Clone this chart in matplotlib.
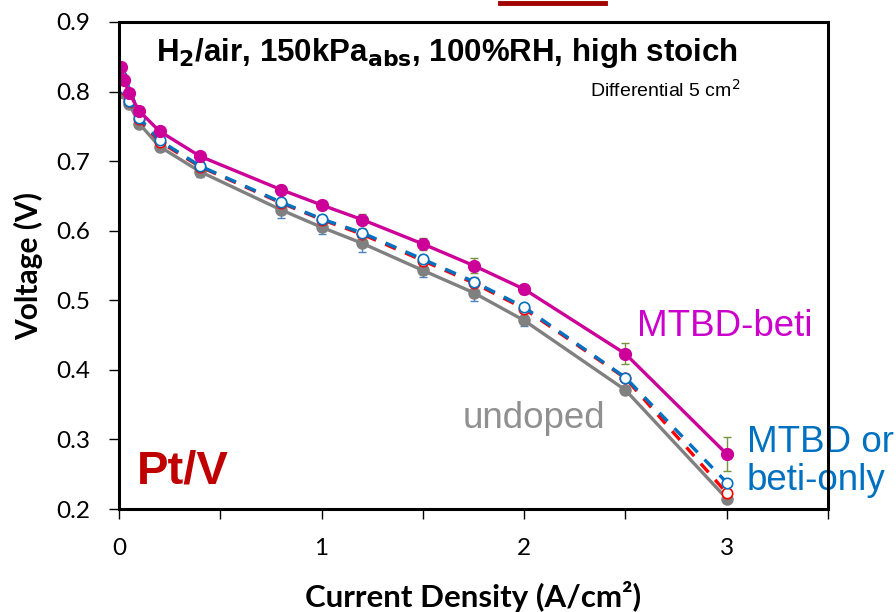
import matplotlib as mpl
import matplotlib.pyplot as plt
from matplotlib.lines import Line2D
from matplotlib.ticker import MultipleLocator, FuncFormatter

mpl.rcParams.update({
    "font.family": ["Lato", "DejaVu Sans"],
    "axes.linewidth": 2.0,
})

# current density (A/cm2)
current = [0.01, 0.025, 0.05, 0.1, 0.2, 0.4, 0.8, 1.0, 1.2, 1.5, 1.75, 2.0, 2.5, 3.0]

# cell voltage (V)
v_undoped = [0.815, 0.798, 0.782, 0.754, 0.721, 0.685, 0.630, 0.605, 0.582, 0.543, 0.511, 0.471, 0.371, 0.215]
v_mtbd_only = [0.821, 0.804, 0.786, 0.760, 0.728, 0.692, 0.640, 0.616, 0.595, 0.557, 0.525, 0.488, 0.388, 0.223]
v_beti_only = [0.822, 0.805, 0.787, 0.762, 0.730, 0.693, 0.641, 0.617, 0.597, 0.559, 0.527, 0.490, 0.389, 0.238]
v_mtbd_beti = [0.835, 0.817, 0.798, 0.772, 0.743, 0.707, 0.659, 0.637, 0.616, 0.581, 0.550, 0.516, 0.423, 0.279]

# error bars (V)
e_undoped = [0.003, 0.003, 0.004, 0.005, 0.006, 0.008, 0.012, 0.010, 0.012, 0.010, 0.012, 0.008, 0.006, 0.004]
e_beti_only = [0.002, 0.002, 0.003, 0.003, 0.004, 0.004, 0.005, 0.006, 0.007, 0.006, 0.006, 0.005, 0.004, 0.004]
e_mtbd_beti = [0.003, 0.003, 0.003, 0.004, 0.004, 0.004, 0.006, 0.006, 0.008, 0.009, 0.011, 0.007, 0.015, 0.025]

x0, x1 = 119 / 896, 828 / 896
y0, y1 = 1 - 509 / 612, 1 - 22 / 612

fig = plt.figure(figsize=(8.96, 6.12), dpi=100)
ax = fig.add_axes([x0, y0, x1 - x0, y1 - y0])
for s in ax.spines.values():
    s.set_visible(False)

ax.errorbar(current, v_undoped, yerr=e_undoped, fmt="none", ecolor="#4F81BD",
            elinewidth=1.0, capsize=3, zorder=2)
ax.plot(current, v_undoped, "-o", color="#808080", lw=2.4, ms=8, zorder=3)

ax.plot(current, v_mtbd_only, "--o", color="#FF0000", lw=2.4, ms=7.5,
        mfc="white", mec="#FF0000", mew=1.2, dashes=(3.5, 3), zorder=4)
ax.errorbar(current, v_beti_only, yerr=e_beti_only, fmt="none", ecolor="#F79646",
            elinewidth=1.0, capsize=3, zorder=4)
ax.plot(current, v_beti_only, "--o", color="#0070C0", lw=2.4, ms=7.5,
        mfc="white", mec="#0070C0", mew=1.2, dashes=(3.5, 3), zorder=5)

ax.errorbar(current, v_mtbd_beti, yerr=e_mtbd_beti, fmt="none", ecolor="#77933C",
            elinewidth=1.0, capsize=3, zorder=6)
ax.plot(current, v_mtbd_beti, "-o", color="#CC0099", lw=2.4, ms=8.5, zorder=7)

ax.set_xlim(0, 3.5)
ax.set_ylim(0.2, 0.9)
ax.xaxis.set_major_locator(MultipleLocator(0.5))
ax.xaxis.set_major_formatter(FuncFormatter(
    lambda v, p: f"{v:.0f}" if abs(v - round(v)) < 1e-6 and v < 3.4 else ""))
ax.yaxis.set_major_locator(MultipleLocator(0.1))
ax.yaxis.set_major_formatter(FuncFormatter(lambda v, p: f"{v:.1f}"))
ax.tick_params(direction="out", length=7, width=1.0, labelsize=17.5)
ax.tick_params(axis="x", pad=14)
ax.tick_params(axis="y", pad=14)

ax.set_xlabel("Current Density (A/cm²)", fontsize=22.5, fontweight="bold", labelpad=16)
ax.set_ylabel("Voltage (V)", fontsize=21.5, fontweight="bold", labelpad=9)

# plot frame as figure-level lines
fig.add_artist(Line2D([x0, x1, x1, x0, x0], [y0, y0, y1, y1, y0],
                      color="black", lw=2.2, solid_joinstyle="miter", zorder=10))

arial = ["Liberation Sans", "DejaVu Sans"]
fig.text(447 / 896, 1 - 53 / 612,
         r"H$_\mathbf{2}$/air, 150kPa$_\mathbf{abs}$, 100%RH, high stoich",
         ha="center", va="center", fontsize=22.5, fontweight="bold", family=arial)
fig.text(740 / 896, 1 - 90 / 612, "Differential 5 cm$^2$", ha="right", va="center",
         fontsize=14, family=arial)
fig.text(637 / 896, 1 - 327 / 612, "MTBD-beti", ha="left", va="center",
         fontsize=26.5, color="#CC00CC", family=arial)
fig.text(463 / 896, 1 - 418 / 612, "undoped", ha="left", va="center",
         fontsize=26.5, color="#909090", family=arial)
fig.text(747 / 896, 1 - 442 / 612, "MTBD or", ha="left", va="center",
         fontsize=26.5, color="#0070C0", family=arial)
fig.text(747 / 896, 1 - 480 / 612, "beti-only", ha="left", va="center",
         fontsize=26.5, color="#0070C0", family=arial)
fig.text(137 / 896, 1 - 472 / 612, "Pt/V", ha="left", va="center",
         fontsize=34, fontweight="bold", color="#C00000", family=arial)

# clipped red title remnant at the very top
fig.add_artist(Line2D([500 / 896, 605 / 896], [1 - 3 / 612, 1 - 3 / 612],
                      color="#A00000", lw=3.5))

fig.savefig("out.png", dpi=100)
